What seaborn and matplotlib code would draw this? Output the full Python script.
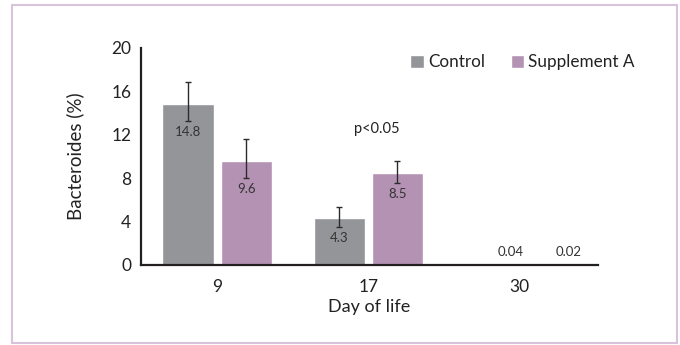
import matplotlib
matplotlib.use("Agg")
import matplotlib.pyplot as plt
import seaborn as sns
import pandas as pd
from matplotlib.patches import Rectangle

days = ["9", "17", "30"]
groups = ["Control", "Supplement A"]
control = [14.8, 4.3, 0.04]
supplement = [9.6, 8.5, 0.02]
control_err_low = [1.5, 0.8, 0.0]
control_err_high = [2.1, 1.0, 0.0]
supplement_err_low = [1.6, 0.9, 0.0]
supplement_err_high = [2.0, 1.1, 0.0]
control_labels = ["14.8", "4.3", "0.04"]
supplement_labels = ["9.6", "8.5", "0.02"]
yticks = [0, 4, 8, 12, 16, 20]
colors = ["#949599", "#b492b4"]
p_text = "p<0.05"

sns.set_theme(style="white")
plt.rcParams["font.family"] = ["Lato", "DejaVu Sans"]

df = pd.DataFrame({
    "Day": days * 2,
    "Group": [groups[0]] * len(days) + [groups[1]] * len(days),
    "Value": control + supplement,
})

fig = plt.figure(figsize=(6.8, 3.45), dpi=100)
ax = fig.add_axes([0.2074, 0.2319, 0.672, 0.629])
sns.barplot(data=df, x="Day", y="Value", hue="Group", hue_order=groups,
            order=days, palette=colors, width=0.77, gap=0.12, ax=ax,
            saturation=1, errorbar=None)

errs = [(control_err_low, control_err_high), (supplement_err_low, supplement_err_high)]
labels = [control_labels, supplement_labels]
for container, (lo_list, hi_list), lab_list in zip(ax.containers, errs, labels):
    for bar, lo, hi, lab in zip(container, lo_list, hi_list, lab_list):
        xc = bar.get_x() + bar.get_width() / 2
        h = bar.get_height()
        if hi > 0:
            ax.errorbar(xc, h, yerr=[[lo], [hi]], fmt="none", ecolor="#2b2b2b",
                        elinewidth=1, capsize=2.3, capthick=1)
        if h > 1:
            ax.annotate(lab, (xc, h - lo), xytext=(0, -11), textcoords="offset pixels",
                        ha="center", va="center", fontsize=9.5, color="#333333")
        else:
            ax.annotate(lab, (xc, h), xytext=(20, 13), textcoords="offset pixels",
                        ha="center", va="center", fontsize=9.5, color="#333333")

ax.text(1.06, 12.5, p_text, ha="center", va="center", fontsize=10.5, color="#222222")

ax.set_ylim(0, 20)
ax.set_xlim(-0.503, 2.52)
ax.set_yticks(yticks)
ax.set_yticklabels([str(t) for t in yticks])
ax.tick_params(axis="y", length=0, pad=7, labelsize=12.5, labelcolor="#222222")
ax.tick_params(axis="x", length=0, pad=10, labelsize=12.5, labelcolor="#222222")
ax.set_ylabel("Bacteroides (%)", fontsize=13.5, color="#222222")
ax.set_xlabel("Day of life", fontsize=13, color="#222222")
ax.yaxis.set_label_coords(-0.125, 0.5)
ax.xaxis.set_label_coords(0.5, -0.155)

for s in ["top", "right"]:
    ax.spines[s].set_visible(False)
for s in ["left", "bottom"]:
    ax.spines[s].set_color("#231f20")
    ax.spines[s].set_linewidth(1.6)

handles, labs = ax.get_legend_handles_labels()
ax.legend(handles, labs, ncol=2, frameon=False, loc="center left",
          bbox_to_anchor=(410 / 680, 1 - 62 / 345), bbox_transform=fig.transFigure,
          handlelength=0.8, handleheight=0.8, handletextpad=0.25,
          columnspacing=1.5, borderpad=0, borderaxespad=0, fontsize=12.3,
          labelcolor="#222222")

fig.patches.append(Rectangle((12 / 680, 2 / 345), 665 / 680, 338 / 345,
                             transform=fig.transFigure, fill=False,
                             edgecolor="#d8c2dc", linewidth=1.5))

fig.savefig("out.png", dpi=100)
